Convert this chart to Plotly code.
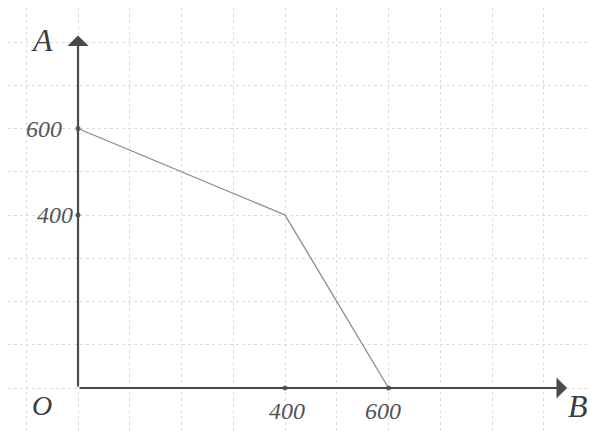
import plotly.graph_objects as go

# data
b_values = [0, 400, 600]
a_values = [600, 400, 0]
tick_x_labels = ["400", "600"]
tick_x_vals = [400, 600]
tick_y_labels = ["600", "400"]
tick_y_vals = [600, 400]

fig = go.Figure()

# the curve
fig.add_trace(go.Scatter(x=b_values, y=a_values, mode="lines",
                         line=dict(color="#8a8a8a", width=1.3),
                         hoverinfo="skip", showlegend=False))
# tick dots on axes
fig.add_trace(go.Scatter(x=[0, 0, 400, 600], y=[600, 400, 0, 0], mode="markers",
                         marker=dict(color="#666", size=5),
                         hoverinfo="skip", showlegend=False))

axis_col = "#4a4a4a"
# y axis arrow
fig.add_annotation(x=0, y=815, ax=0, ay=0, xref="x", yref="y", axref="x", ayref="y",
                   showarrow=True, arrowhead=1, arrowsize=1.6, arrowwidth=2.2,
                   arrowcolor=axis_col, text="")
# x axis arrow
fig.add_annotation(x=945, y=0, ax=0, ay=0, xref="x", yref="y", axref="x", ayref="y",
                   showarrow=True, arrowhead=1, arrowsize=1.6, arrowwidth=2.2,
                   arrowcolor=axis_col, text="")

font = dict(family="Liberation Serif", size=24, color="#3c3c3c")
lab_font = dict(family="Liberation Serif", size=24, color="#555555")

fig.add_annotation(x=-70, y=805, text="<i>A</i>", showarrow=False, font=dict(font, size=32))
fig.add_annotation(x=966, y=-42, text="<i>B</i>", showarrow=False, font=dict(font, size=32))
fig.add_annotation(x=-70, y=-40, text="<i>O</i>", showarrow=False, font=dict(font, size=28))

y_shifts = [-14, -3]
for v, t, s in zip(tick_y_vals, tick_y_labels, y_shifts):
    fig.add_annotation(x=0, y=v, text=f"<i>{t}</i>", showarrow=False, xanchor="right",
                       xshift=s, font=lab_font)
x_shifts = [2, -6]
for v, t, s in zip(tick_x_vals, tick_x_labels, x_shifts):
    fig.add_annotation(x=v, y=0, text=f"<i>{t}</i>", showarrow=False, yanchor="top",
                       yshift=-8, xshift=s, font=lab_font)

fig.update_xaxes(range=[-135.3, 999], dtick=100, tick0=0, showgrid=True,
                 gridcolor="#dcdcdc", griddash="dot", gridwidth=1,
                 zeroline=False, showticklabels=False, ticks="")
fig.update_yaxes(range=[-101.7, 878.6], dtick=100, tick0=0, showgrid=True,
                 gridcolor="#dcdcdc", griddash="dot", gridwidth=1,
                 zeroline=False, showticklabels=False, ticks="")

fig.update_layout(width=587, height=424, margin=dict(l=0, r=0, t=0, b=0),
                  paper_bgcolor="#ffffff", plot_bgcolor="#ffffff")

fig.write_html("out.html")
